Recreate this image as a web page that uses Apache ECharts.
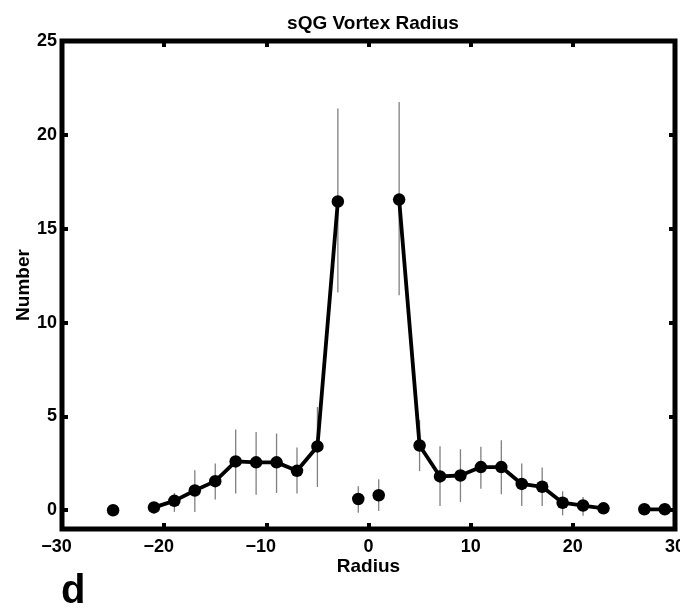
<!DOCTYPE html>
<html><head><meta charset="utf-8">
<script src="https://cdn.jsdelivr.net/npm/echarts@6/dist/echarts.min.js"></script>
<style>html,body{margin:0;padding:0;background:#fff}#c{width:680px;height:612px}</style>
</head><body><div id="c"></div>
<script>
// Data
const linkedRadius = [-29,-27,-25,-23,-21,-19,-17,-15,-13,-11,-9,-7,-5,-3,-1,1,3,5,7,9,11,13,15,17,19,21,23,25,27,29];
const linkedCount  = [null,null,0,null,0.15,0.5,1.05,1.55,2.6,2.55,2.55,2.1,3.4,16.45,null,null,16.55,3.45,1.8,1.85,2.3,2.3,1.4,1.25,0.4,0.25,0.1,null,0.05,0.05];
const isolatedRadius = [-1, 1];
const isolatedCount  = [0.6, 0.8];
const errRadius = [-19,-17,-15,-13,-11,-9,-7,-5,-3,-1,1,3,5,7,9,11,13,15,17,19,21];
const errLow    = [-0.09,-0.09,0.57,0.89,0.83,0.92,0.89,1.24,11.6,-0.14,-0.04,11.46,2.08,0.23,0.44,1.15,0.85,0.23,0.23,-0.27,-0.3];
const errHigh   = [0.92,2.13,2.49,4.3,4.17,4.09,3.34,5.5,21.4,1.28,1.65,21.75,4.8,3.41,3.25,3.38,3.73,2.49,2.27,1.01,0.71];
const xTicks = [-30,-20,-10,0,10,20,30];
const yTicks = [0,5,10,15,20,25];

const FONT = '"Liberation Sans", Arial, Helvetica, sans-serif';
// negative labels: digits centred on the tick, minus sign hanging to the left
const xFmt = v => v < 0 ? '\u2212' + Math.abs(v) + '{p| }' : String(v);

const chart = echarts.init(document.getElementById('c'), null, {renderer:'canvas'});
const tickStyle = {show:true, inside:true, length:6, lineStyle:{color:'#000', width:4}};
const noLine = {show:false, onZero:false};
chart.setOption({
  animation:false,
  backgroundColor:'#fff',
  title:{text:'sQG Vortex Radius', left:368, top:9, textAlign:'center',
    textStyle:{fontFamily:FONT, fontWeight:'bold', fontSize:19, color:'#000'}},
  grid:{left:62, right:5, top:41, bottom:83, outerBoundsMode:'none', containLabel:false,
    show:true, borderColor:'#000', borderWidth:5, backgroundColor:'transparent'},
  graphic:[{type:'text', left:61, top:572, style:{text:'d', fontFamily:FONT, fontWeight:'bold', fontSize:40, fill:'#000'}}],
  xAxis:[{
    type:'value', min:-30, max:30, interval:10, position:'bottom',
    name:'Radius', nameLocation:'middle', nameGap:28, nameMoveOverlap:false,
    nameTextStyle:{fontFamily:FONT, fontWeight:'bold', fontSize:19, color:'#000'},
    axisLine:noLine, splitLine:{show:false},
    axisTick:Object.assign({customValues:xTicks}, tickStyle),
    axisLabel:{customValues:xTicks, formatter:xFmt, margin:9, fontFamily:FONT, fontWeight:'bold', fontSize:18, color:'#000',
      rich:{p:{width:11, fontFamily:FONT, fontWeight:'bold', fontSize:18}}}
  },{
    type:'value', min:-30, max:30, interval:10, position:'top',
    axisLine:noLine, splitLine:{show:false}, axisLabel:{show:false},
    axisTick:Object.assign({customValues:xTicks}, tickStyle)
  }],
  yAxis:[{
    type:'value', min:-1, max:25, position:'left',
    name:'Number', nameLocation:'middle', nameGap:29, nameMoveOverlap:false,
    nameTextStyle:{fontFamily:FONT, fontWeight:'bold', fontSize:19, color:'#000'},
    axisLine:noLine, splitLine:{show:false},
    axisTick:Object.assign({customValues:yTicks}, tickStyle),
    axisLabel:{customValues:yTicks, margin:5, fontFamily:FONT, fontWeight:'bold', fontSize:18, color:'#000'}
  },{
    type:'value', min:-1, max:25, position:'right',
    axisLine:noLine, splitLine:{show:false}, axisLabel:{show:false},
    axisTick:Object.assign({customValues:yTicks}, tickStyle)
  }],
  series:[{
    type:'custom', xAxisIndex:0, yAxisIndex:0, z:1,
    data: errRadius.map((r,i)=>[r, errLow[i], errHigh[i]]),
    renderItem:(params, api)=>{
      const a = api.coord([api.value(0), api.value(1)]);
      const b = api.coord([api.value(0), api.value(2)]);
      return {type:'line', shape:{x1:a[0], y1:a[1], x2:b[0], y2:b[1]}, style:{stroke:'#808080', lineWidth:1.3}};
    }
  },{
    type:'line', xAxisIndex:0, yAxisIndex:0, z:2,
    data: linkedRadius.map((r,i)=>[r, linkedCount[i]]),
    connectNulls:false, showSymbol:true, showAllSymbol:true,
    symbol:'circle', symbolSize:12.5,
    lineStyle:{color:'#000', width:3.8}, itemStyle:{color:'#000', opacity:1}
  },{
    type:'scatter', xAxisIndex:0, yAxisIndex:0, z:3,
    data: isolatedRadius.map((r,i)=>[r, isolatedCount[i]]),
    symbol:'circle', symbolSize:12.5, itemStyle:{color:'#000', opacity:1}
  }]
});
</script></body></html>
